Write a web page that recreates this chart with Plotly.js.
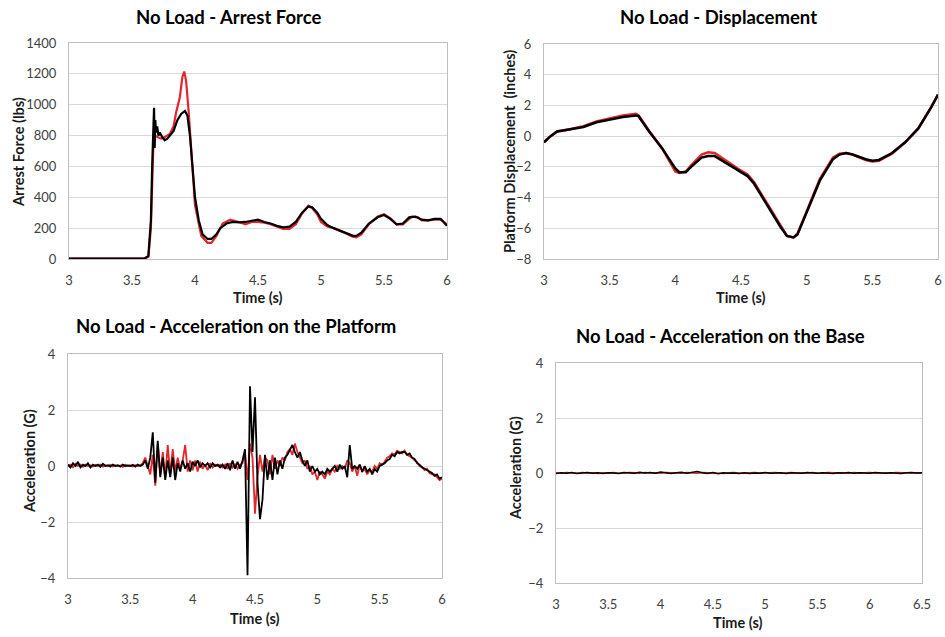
<!DOCTYPE html>
<html><head><meta charset="utf-8">
<script src="https://cdn.plot.ly/plotly-3.0.1.min.js"></script>
<style>html,body{margin:0;padding:0;background:#fff}#c{width:945px;height:637px}</style>
</head><body><div id="c"></div>
<script>
// ---- Arrest force (lbs) ----
const forceBlackT = [3.00,3.10,3.20,3.30,3.40,3.50,3.60,3.63,3.65,3.66,3.67,3.675,3.68,3.685,3.69,3.70,3.71,3.72,3.74,3.76,3.78,3.80,3.83,3.86,3.89,3.92,3.94,3.96,3.98,4.00,4.03,4.06,4.10,4.13,4.17,4.20,4.25,4.30,4.35,4.40,4.45,4.50,4.55,4.60,4.65,4.70,4.75,4.80,4.85,4.90,4.93,4.97,5.00,5.05,5.10,5.15,5.20,5.25,5.28,5.32,5.38,5.45,5.50,5.55,5.60,5.65,5.70,5.75,5.80,5.85,5.90,5.95,6.00];
const forceBlack  = [2,4,2,3,2,3,4,20,250,600,900,980,720,900,820,860,800,820,790,770,780,800,830,900,940,960,930,800,600,400,250,160,130,130,160,200,230,240,238,240,248,255,240,230,215,205,210,240,300,340,335,300,260,220,200,185,170,152,150,170,230,270,285,260,225,230,270,275,255,250,260,260,215];
const forceRedT   = [3.00,3.10,3.20,3.30,3.40,3.50,3.60,3.63,3.65,3.66,3.67,3.68,3.70,3.73,3.76,3.80,3.83,3.85,3.88,3.90,3.915,3.93,3.95,3.97,4.00,4.05,4.10,4.13,4.17,4.22,4.28,4.30,4.35,4.40,4.45,4.50,4.55,4.60,4.65,4.70,4.75,4.80,4.85,4.90,4.93,4.97,5.00,5.05,5.10,5.15,5.20,5.25,5.28,5.32,5.38,5.45,5.50,5.55,5.60,5.65,5.72,5.77,5.80,5.85,5.90,5.95,6.00];
const forceRed    = [3,2,4,2,3,2,3,15,200,550,750,800,790,780,790,810,860,950,1050,1180,1215,1150,950,700,350,150,105,105,150,230,255,250,240,225,240,240,235,225,210,195,195,225,295,345,330,290,240,210,200,185,165,145,140,160,225,275,290,265,225,225,275,270,250,250,255,255,225];

// ---- Platform displacement (inches) ----
const dispBlackT = [3.00,3.05,3.10,3.20,3.30,3.40,3.50,3.60,3.70,3.72,3.80,3.90,4.00,4.03,4.08,4.12,4.20,4.25,4.30,4.40,4.50,4.55,4.60,4.70,4.80,4.85,4.90,4.93,5.00,5.10,5.20,5.25,5.30,5.35,5.45,5.50,5.55,5.65,5.75,5.85,5.95,6.00];
const dispBlack  = [-0.4,0.0,0.3,0.45,0.6,0.9,1.1,1.25,1.35,1.3,0.3,-0.8,-2.1,-2.35,-2.35,-2.0,-1.4,-1.3,-1.3,-1.8,-2.3,-2.6,-3.1,-4.5,-5.9,-6.5,-6.6,-6.4,-5.0,-2.9,-1.5,-1.2,-1.1,-1.2,-1.5,-1.6,-1.55,-1.1,-0.4,0.5,1.9,2.7];
const dispRedT   = [3.00,3.05,3.10,3.20,3.30,3.40,3.50,3.60,3.70,3.72,3.80,3.90,4.00,4.03,4.08,4.12,4.20,4.25,4.30,4.40,4.50,4.55,4.60,4.70,4.80,4.85,4.90,4.93,5.00,5.10,5.20,5.25,5.30,5.35,5.45,5.50,5.55,5.65,5.75,5.85,5.95,6.00];
const dispRed    = [-0.4,0.0,0.3,0.45,0.65,0.95,1.15,1.35,1.45,1.35,0.35,-0.8,-2.3,-2.4,-2.3,-1.9,-1.2,-1.05,-1.1,-1.7,-2.25,-2.5,-3.0,-4.4,-5.8,-6.5,-6.6,-6.35,-4.9,-2.8,-1.4,-1.15,-1.1,-1.2,-1.55,-1.65,-1.6,-1.15,-0.4,0.5,1.9,2.7];

// ---- Acceleration on the platform (G), sampled every 0.02 s from 3.00 s ----
const platStart = 3.00, platStep = 0.02;
const platBlack = [
  0.05,-0.05,0.10,0.00,0.15,-0.05,0.05,0.00,0.10,-0.05,
  0.05,0.00,0.05,-0.03,0.08,0.00,0.03,-0.02,0.05,0.00,
  0.03,-0.02,0.05,0.00,0.02,0.00,0.04,-0.02,0.05,0.00,
  0.05,0.20,-0.10,0.30,1.20,-0.60,0.90,-0.40,0.30,-0.50,
  0.20,-0.40,0.30,-0.50,0.10,-0.20,0.20,-0.10,0.10,-0.20,
  0.15,0.00,0.20,-0.05,0.10,0.00,0.10,-0.05,0.10,0.00,
  0.05,-0.05,0.05,-0.10,0.10,-0.15,0.20,-0.10,0.15,-0.10,
  0.20,0.60,-3.90,2.85,0.50,2.45,-0.60,-1.90,-1.20,0.40,
  -0.50,0.20,-0.50,0.30,-0.30,0.20,-0.10,0.30,0.40,0.55,
  0.75,0.50,0.30,0.50,0.20,0.00,0.20,-0.20,0.00,-0.20,
  -0.10,-0.30,-0.20,-0.30,-0.10,-0.20,-0.10,0.00,-0.20,0.05,
  -0.10,0.00,-0.40,0.75,-0.10,0.00,-0.10,0.05,-0.20,0.00,
  -0.20,-0.10,-0.30,-0.10,-0.20,0.00,0.05,0.10,0.20,0.25,
  0.40,0.35,0.50,0.45,0.50,0.50,0.40,0.45,0.30,0.25,
  0.10,0.05,-0.05,-0.10,-0.15,-0.20,-0.25,-0.35,-0.30,-0.45,
  -0.40];
const platRed = [
  0.00,0.05,-0.05,0.08,0.00,0.05,-0.03,0.05,0.00,0.03,
  -0.02,0.04,0.00,0.05,-0.02,0.03,0.00,0.04,-0.02,0.03,
  0.00,0.02,-0.03,0.04,0.00,0.02,-0.02,0.03,0.00,0.02,
  0.10,0.30,0.00,-0.30,0.40,-0.70,0.80,-0.30,0.50,-0.40,
  0.75,-0.30,0.60,-0.20,0.30,-0.10,0.20,0.75,-0.20,0.20,
  -0.15,0.20,-0.20,0.15,-0.10,0.05,-0.15,0.10,-0.05,0.05,
  0.00,0.05,-0.05,0.05,-0.10,0.10,-0.05,0.05,-0.10,0.05,
  0.10,0.50,-0.50,0.80,0.30,-1.70,-0.40,0.40,-0.20,0.30,
  0.20,-0.30,0.40,-0.10,0.20,0.00,0.30,0.20,0.50,0.60,
  0.40,0.80,0.50,0.30,0.10,0.20,-0.10,0.00,-0.30,-0.20,
  -0.50,-0.20,-0.30,-0.45,-0.20,-0.30,-0.10,-0.20,0.00,-0.10,
  0.00,-0.10,0.20,0.10,-0.20,0.00,-0.35,0.05,-0.20,-0.10,
  -0.30,-0.15,-0.20,0.00,-0.10,0.10,0.05,0.15,0.30,0.35,
  0.45,0.40,0.55,0.50,0.45,0.55,0.40,0.35,0.30,0.20,
  0.15,0.00,-0.05,-0.15,-0.10,-0.25,-0.30,-0.30,-0.40,-0.50,
  -0.45];

// ---- Acceleration on the base (G), sampled every 0.05 s from 3.00 s ----
const baseStart = 3.00, baseStep = 0.05;
const baseBlack = [
  -0.02,0.01,-0.01,0.02,-0.02,0.00,0.02,-0.01,0.01,-0.02,
  0.01,0.00,-0.02,0.02,0.00,-0.01,0.03,0.00,0.02,-0.01,
  0.04,0.00,-0.02,0.01,0.03,-0.01,0.02,0.05,0.01,-0.02,
  0.02,-0.03,0.01,-0.01,0.00,-0.02,0.01,-0.02,0.00,-0.01,
  0.02,-0.01,0.00,0.01,-0.02,0.01,0.00,-0.01,0.02,0.00,
  -0.01,0.01,0.00,-0.02,0.01,0.00,0.02,-0.01,0.01,0.00,
  -0.01,0.02,0.00,-0.01,0.01,0.00,-0.02,0.01,0.02,0.00,
  0.01];
const baseRed = [
  0.01,-0.01,0.02,0.00,-0.01,0.02,0.00,0.01,-0.02,0.01,
  0.00,0.02,-0.01,0.00,0.02,0.01,-0.01,0.02,0.00,0.01,
  -0.01,0.02,0.01,0.00,-0.01,0.02,0.00,-0.01,0.02,0.01,
  0.00,0.01,-0.02,0.01,0.02,0.00,-0.01,0.01,0.02,0.00,
  0.01,0.00,0.02,-0.01,0.01,0.02,0.00,0.01,-0.01,0.02,
  0.00,-0.01,0.02,0.01,0.00,0.01,-0.01,0.02,0.00,0.01,
  0.02,0.00,-0.01,0.01,0.00,0.02,0.01,-0.01,0.00,0.01,
  0.00];

// ---- Titles / ticks ----
const panelTitles = ["No Load - Arrest Force","No Load - Displacement","No Load - Acceleration on the Platform","No Load - Acceleration on the Base"];
const yTitles = ["Arrest Force (lbs)","Platform Displacement  (inches)","Acceleration (G)","Acceleration (G)"];
const xTitle = "Time (s)";

const grid = (start, step, n) => Array.from({length:n}, (_,i) => +(start + step*i).toFixed(3));

const RED = '#e3262b', BLK = '#000000';
const W = 945, H = 637;
const dx = (a,b) => [a/W, b/W];
const dy = (top,bot) => [1-bot/H, 1-top/H];

const traces = [
  {x: forceRedT, y: forceRed, xaxis:'x', yaxis:'y', line:{color:RED,width:2.2}},
  {x: forceBlackT, y: forceBlack, xaxis:'x', yaxis:'y', line:{color:BLK,width:2.2}},
  {x: dispRedT, y: dispRed, xaxis:'x2', yaxis:'y2', line:{color:RED,width:2.5}},
  {x: dispBlackT, y: dispBlack, xaxis:'x2', yaxis:'y2', line:{color:BLK,width:2.5}},
  {x: grid(platStart,platStep,platRed.length), y: platRed, xaxis:'x3', yaxis:'y3', line:{color:RED,width:1.8}},
  {x: grid(platStart,platStep,platBlack.length), y: platBlack, xaxis:'x3', yaxis:'y3', line:{color:BLK,width:1.8}},
  {x: grid(baseStart,baseStep,baseRed.length), y: baseRed, xaxis:'x4', yaxis:'y4', line:{color:RED,width:1.5}},
  {x: grid(baseStart,baseStep,baseBlack.length), y: baseBlack, xaxis:'x4', yaxis:'y4', line:{color:BLK,width:1.5}}
].map(t => Object.assign({type:'scatter', mode:'lines', hoverinfo:'skip', showlegend:false}, t));

const tickFont = {family:'Lato, "Open Sans", sans-serif', size:13, color:'#404040'};
function xa(domain, anchor, range, dtick){
  return {domain, anchor, range, dtick, tick0:3, showgrid:false, zeroline:false, showline:true, mirror:true,
          linecolor:'#bfbfbf', linewidth:1, ticks:'', ticklabelstandoff:9, tickfont:tickFont, fixedrange:true};
}
function ya(domain, anchor, range, dtick){
  return {domain, anchor, range, dtick, showgrid:true, gridcolor:'#d9d9d9', gridwidth:1, zeroline:false,
          showline:true, mirror:true, linecolor:'#bfbfbf', linewidth:1, ticks:'', ticklabelstandoff:9, tickfont:tickFont, fixedrange:true};
}

const titleFont = {family:'Lato, "Open Sans", sans-serif', size:18.5, color:'#000'};
const axFont = {family:'Lato, "Open Sans", sans-serif', size:14.5, color:'#1a1a1a'};
function ann(text, xpx, ypx, font, rot){
  return {text:'<b>'+text+'</b>', xref:'paper', yref:'paper', x:xpx/W, y:1-ypx/H, xanchor:'center', yanchor:'middle',
          showarrow:false, font, textangle: rot||0};
}

const layout = {
  width: W, height: H, margin:{l:0,r:0,t:0,b:0}, paper_bgcolor:'#fff', plot_bgcolor:'#fff',
  xaxis:  xa(dx(69,447),'y',[3,6],0.5),
  yaxis:  ya(dy(43,259),'x',[0,1400],200),
  xaxis2: xa(dx(544,938),'y2',[3,6],0.5),
  yaxis2: ya(dy(44,259),'x2',[-8,6],2),
  xaxis3: xa(dx(68,442),'y3',[3,6],0.5),
  yaxis3: ya(dy(354,578),'x3',[-4,4],2),
  xaxis4: xa(dx(556,922),'y4',[3,6.5],0.5),
  yaxis4: ya(dy(363,583),'x4',[-4,4],2),
  annotations: [
    ann(panelTitles[0], 228, 17, titleFont),
    ann(panelTitles[1], 718, 17, titleFont),
    ann(panelTitles[2], 236, 326, titleFont),
    ann(panelTitles[3], 720, 336, titleFont),
    ann(xTitle, 258, 297, axFont),
    ann(xTitle, 741, 297, axFont),
    ann(xTitle, 255, 618, axFont),
    ann(xTitle, 738, 622, axFont),
    ann(yTitles[0], 18, 152, axFont, -90),
    ann(yTitles[1], 509, 152, axFont, -90),
    ann(yTitles[2], 29, 461, axFont, -90),
    ann(yTitles[3], 515, 468, axFont, -90)
  ]
};
Plotly.newPlot('c', traces, layout, {staticPlot:true, displayModeBar:false});
</script></body></html>
